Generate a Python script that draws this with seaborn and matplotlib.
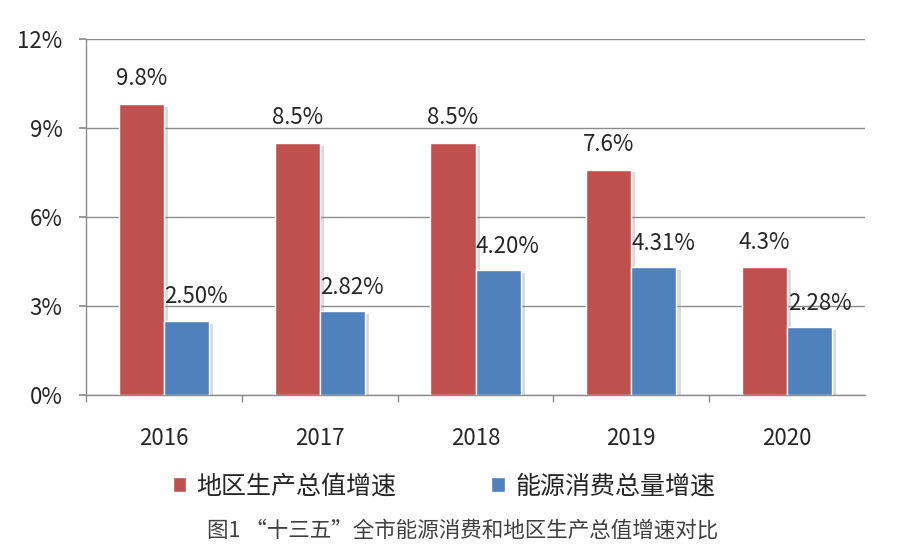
import pandas as pd
import matplotlib.pyplot as plt
import matplotlib.patheffects as pe
from matplotlib.patches import Patch
import seaborn as sns

# --- data ---
years = ['2016', '2017', '2018', '2019', '2020']
gdp_growth = [9.8, 8.5, 8.5, 7.6, 4.3]          # 地区生产总值增速
energy_growth = [2.50, 2.82, 4.20, 4.31, 2.28]  # 能源消费总量增速
series_names = ['地区生产总值增速', '能源消费总量增速']
colors = ['#C0504D', '#4F81BD']
caption = '图1 “十三五”全市能源消费和地区生产总值增速对比'

df = pd.DataFrame({
    'year': years * 2,
    'value': gdp_growth + energy_growth,
    'series': [series_names[0]] * len(years) + [series_names[1]] * len(years),
})

sns.set_theme(style='white')
plt.rcParams['font.family'] = ['Noto Sans CJK SC', 'DejaVu Sans']

fig = plt.figure(figsize=(9.17, 5.53), dpi=100)
ax = fig.add_axes([0.0938, 0.2857, 0.8495, 0.6438])

sns.barplot(data=df, x='year', y='value', hue='series', palette=colors,
            width=0.58, gap=0, saturation=1, legend=False, ax=ax, zorder=3)

# soft drop shadow like the office chart
for bar in ax.patches:
    bar.set_path_effects([pe.SimplePatchShadow(offset=(3, -2), shadow_rgbFace='#8a8a8a', alpha=0.3),
                          pe.Normal()])

# value labels
for bar, v in zip(ax.patches[:5], gdp_growth):
    ax.annotate(f'{v:.1f}%', (bar.get_x() + bar.get_width() / 2, bar.get_height()),
                xytext=(0, 10), textcoords='offset points', ha='center', va='bottom',
                fontsize=16, color='#262626')
for bar, v in zip(ax.patches[5:10], energy_growth):
    ax.annotate(f'{v:.2f}%', (bar.get_x() + bar.get_width() / 2, bar.get_height()),
                xytext=(7, 9), textcoords='offset points', ha='center', va='bottom',
                fontsize=16, color='#262626')

ax.set_ylim(0, 12)
ax.set_xlim(-0.5, 4.5)
ax.set_yticks([0, 3, 6, 9, 12])
ax.set_yticklabels(['0%', '3%', '6%', '9%', '12%'])
ax.set_xlabel('')
ax.set_ylabel('')

ax.yaxis.grid(True, color='#8c8c8c', linewidth=1)
ax.set_axisbelow(True)
for s in ['top', 'right']:
    ax.spines[s].set_visible(False)
for s in ['left', 'bottom']:
    ax.spines[s].set_color('#8c8c8c')
    ax.spines[s].set_linewidth(1)

ax.tick_params(axis='y', left=True, length=5, color='#8c8c8c', pad=12,
               labelsize=16, labelcolor='#262626')
ax.tick_params(axis='x', which='major', bottom=False, pad=17,
               labelsize=16, labelcolor='#262626')
ax.set_xticks([-0.5, 0.5, 1.5, 2.5, 3.5], minor=True)
ax.tick_params(axis='x', which='minor', bottom=True, length=5, color='#8c8c8c')

handles = [Patch(facecolor=c, label=n) for c, n in zip(colors, series_names)]
fig.legend(handles=handles, loc='center', bbox_to_anchor=(0.484, 0.12), ncol=2,
           frameon=False, fontsize=18, handlelength=0.55, handleheight=0.55,
           handletextpad=0.4, columnspacing=3.8, labelcolor='#262626')

fig.text(0.505, 0.04, caption, ha='center', va='center', fontsize=15.5, color='#404040')

fig.savefig('out.png', dpi=100)
